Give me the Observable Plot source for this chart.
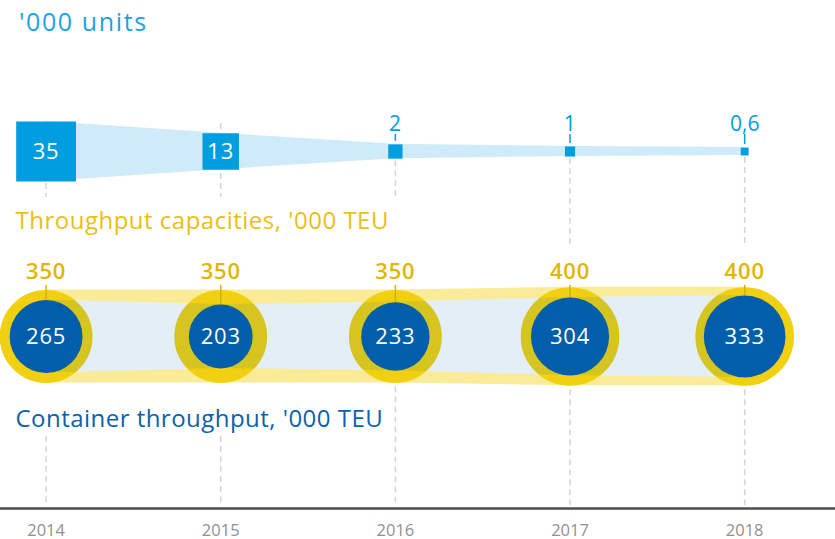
<!DOCTYPE html>
<html>
<head>
<meta charset="utf-8">
<script src="https://cdn.jsdelivr.net/npm/d3@7"></script>
<script src="https://cdn.jsdelivr.net/npm/@observablehq/plot@0.6"></script>
<style>
  html, body { margin: 0; padding: 0; background: #fff; }
  #title { font-family: "Open Sans", sans-serif; font-size: 25px; letter-spacing: 1.6px; color: #1aa3e2;
           height: 42px; line-height: 42px; padding-left: 19px; white-space: nowrap; }
  svg { display: block; }
</style>
</head>
<body>
<div id="title">'000 units</div>
<div id="top"></div>
<div id="bottom"></div>
<script>
// ---- data ----
const years = [2014, 2015, 2016, 2017, 2018];
const unitLabels = ["35", "13", "2", "1", "0,6"];
const units = [35, 13, 2, 1, 0.6];
const capacity = [350, 350, 350, 400, 400];
const throughput = [265, 203, 233, 304, 333];
const captionCapacity = "Throughput capacities, '000 TEU";
const captionThroughput = "Container throughput, '000 TEU";

const W = 835;
const xScale = {domain: [2013.739, 2018.52], range: [0, W]};
const font = '"Open Sans", sans-serif';

// ---- top section: units (squares) ----
const topData = years.map((year, i) => ({year, value: units[i], label: unitLabels[i]}));
const TOP_Y0 = 42, TOP_Y1 = 250, TOP_CY = 151;
const sqR = {type: "sqrt", domain: [0, 35], range: [0, 33.74]};   // dot r → square side = r*sqrt(pi)
const side = v => d3.scaleSqrt().domain(sqR.domain).range(sqR.range)(v) * Math.sqrt(Math.PI);
const inside = d => d.value >= 10;
const topDash = topData.map(d => ({
  year: d.year,
  y1: inside(d) ? 123 : TOP_CY + side(d.value) / 2 + 2,
  y2: d.year <= 2016 ? 197 : 246
}));

const topPlot = Plot.plot({
  width: W, height: TOP_Y1 - TOP_Y0,
  margin: 0,
  x: {...xScale, axis: null},
  y: {domain: [TOP_Y0, TOP_Y1], range: [0, TOP_Y1 - TOP_Y0], axis: null},
  r: sqR,
  style: {fontFamily: font, overflow: "visible"},
  marks: [
    Plot.ruleX(topDash, {x: "year", y1: "y1", y2: "y2", stroke: "#d4d4d4", strokeWidth: 1.5, strokeDasharray: "6,4"}),
    Plot.areaY(topData, {x: "year", y1: d => TOP_CY - side(d.value) / 2, y2: d => TOP_CY + side(d.value) / 2, fill: "#cfeaf8"}),
    Plot.dot(topData, {x: "year", y: () => TOP_CY, r: "value", symbol: "square", fill: "#009ee0"}),
    Plot.text(topData.filter(inside), {x: "year", y: () => TOP_CY, text: "label", fill: "#fff", fontSize: 22, lineAnchor: "middle"}),
    Plot.ruleX(topData.filter(d => !inside(d)), {x: "year", y1: 134, y2: d => TOP_CY - side(d.value) / 2 - 3, stroke: "#009ee0", strokeWidth: 1.5}),
    Plot.text(topData.filter(d => !inside(d)), {x: "year", y: () => 130, text: "label", fill: "#009ee0", fontSize: 21, lineAnchor: "bottom"}),
    Plot.text([captionCapacity], {x: () => 2013.739, y: () => 228, dx: 15, text: d => d, textAnchor: "start", lineAnchor: "bottom", fill: "#eabf12", fontSize: 24})
  ]
});
document.getElementById("top").append(topPlot);

// ---- bottom section: TEU (circles) ----
const botData = years.map((year, i) => ({year, cap: capacity[i], thr: throughput[i]}));
const BOT_Y0 = 250, BOT_Y1 = 539, BOT_CY = 336;
const cR = {type: "sqrt", domain: [0, 400], range: [0, 44.8]};
const rad = d3.scaleSqrt().domain(cR.domain).range(cR.range);
const RING = 9;
const outer = v => rad(v) + RING / 2;
const botDash = botData.map(d => ({
  year: d.year,
  y1: d.year <= 2015 ? 436 : BOT_CY + outer(d.cap) + 4,
  y2: 505
}));

const botPlot = Plot.plot({
  width: W, height: BOT_Y1 - BOT_Y0,
  margin: 0,
  x: {...xScale, axis: null},
  y: {domain: [BOT_Y0, BOT_Y1], range: [0, BOT_Y1 - BOT_Y0], axis: null},
  r: cR,
  style: {fontFamily: font, overflow: "visible"},
  marks: [
    Plot.ruleX(botDash, {x: "year", y1: "y1", y2: "y2", stroke: "#d4d4d4", strokeWidth: 1.5, strokeDasharray: "6,4"}),
    Plot.areaY(botData, {x: "year", y1: d => BOT_CY - outer(d.cap), y2: d => BOT_CY - rad(d.thr), fill: "#f3d21a", fillOpacity: 0.45}),
    Plot.areaY(botData, {x: "year", y1: d => BOT_CY + rad(d.thr), y2: d => BOT_CY + outer(d.cap), fill: "#f3d21a", fillOpacity: 0.45}),
    Plot.dot(botData, {x: "year", y: () => BOT_CY, r: "cap", fill: "#f0d010", stroke: "#f0d010", strokeWidth: RING}),
    Plot.areaY(botData, {x: "year", y1: d => BOT_CY - rad(d.thr), y2: d => BOT_CY + rad(d.thr), fill: "#005ca9", fillOpacity: 0.105}),
    Plot.ruleX(botData, {x: "year", y1: 285, y2: d => BOT_CY - rad(d.thr), stroke: "#d6b000", strokeWidth: 1.5}),
    Plot.dot(botData, {x: "year", y: () => BOT_CY, r: "thr", fill: "#005eaa"}),
    Plot.text(botData, {x: "year", y: () => BOT_CY, text: d => String(d.thr), fill: "#fff", fontSize: 22, lineAnchor: "middle"}),
    Plot.text(botData, {x: "year", y: () => 278, text: d => String(d.cap), fill: "#e3b400", fontSize: 22, fontWeight: 600, lineAnchor: "bottom"}),
    Plot.text([captionThroughput], {x: () => 2013.739, y: () => 426, dx: 15, text: d => d, textAnchor: "start", lineAnchor: "bottom", fill: "#0a62ad", fontSize: 24}),
    Plot.ruleY([508], {y: d => d, stroke: "#4d4d4d", strokeWidth: 2.5}),
    Plot.text(years, {x: d => d, y: () => 535, text: d => String(d), fill: "#909090", fontSize: 16.5, lineAnchor: "bottom"})
  ]
});
document.getElementById("bottom").append(botPlot);

// letter spacing for the wide typeface of the original
const spacing = new Map([[captionCapacity, "0.5px"], [captionThroughput, "0.47px"]]);
for (const svg of [topPlot, botPlot]) {
  svg.querySelectorAll("text").forEach(t => {
    const s = t.textContent;
    let ls = spacing.get(s);
    if (!ls && /^[0-9]+$/.test(s) && !years.includes(+s)) ls = "0.8px";
    if (ls) { t.setAttribute("letter-spacing", ls); t.style.letterSpacing = ls; }
  });
}
</script>
</body>
</html>
